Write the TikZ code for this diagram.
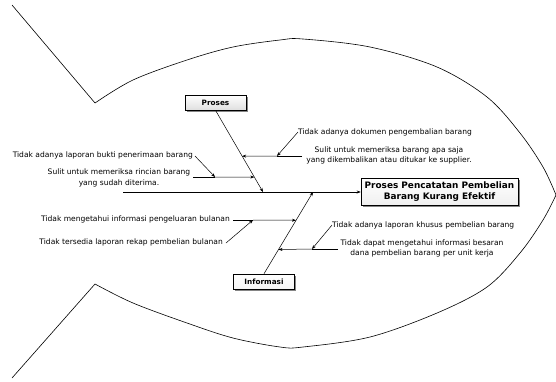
\documentclass[tikz,border=0pt]{standalone}
\usepackage{fontspec}
\setmainfont{DejaVu Sans}
\usetikzlibrary{arrows.meta,shadows,calc}
\begin{document}
\begin{tikzpicture}[x=1pt,y=-1pt,
  note/.style={font=\fontsize{7.55}{10.8}\selectfont, inner sep=0pt, align=center},
  catbox/.style={draw, line width=0.6pt, font=\bfseries\fontsize{7.3}{9}\selectfont,
    minimum width=61pt, minimum height=15pt, inner sep=0pt,
    drop shadow={shadow xshift=1.6pt, shadow yshift=-1.6pt, fill=black!60, opacity=0.8}},
  effectbox/.style={catbox, font=\bfseries\fontsize{8.9}{10.8}\selectfont,
    minimum width=157pt, minimum height=27pt, align=center},
  arr/.style={-{Stealth[length=4pt,width=3pt]}, line width=0.5pt},
  bone/.style={line width=0.6pt},
  outline/.style={line width=0.6pt}
]
\useasboundingbox (0,0) rectangle (556,381);

% fish body outline
\draw[outline] (12,5) -- (95,103)
  plot[smooth, tension=0.55] coordinates {(95,103) (133,80) (187,60) (233,47) (280,40) (303,39) (370,47) (437,67) (487,97) (520,133) (543,167) (556,195)};
\draw[outline] plot[smooth, tension=0.55] coordinates {(556,195) (543,220) (520,253) (487,287) (437,313) (370,337) (303,347) (280,347) (233,338) (187,323) (133,303) (95,284)}
  -- (12,378);

% effect and categories
\node[effectbox, top color=white, bottom color=gray!12] (effect) at (439.5,191.5) {Proses Pencatatan Pembelian\\Barang Kurang Efektif};
\node[catbox, top color=white, bottom color=gray!25] (proses) at (215.5,102.5) {Proses};
\node[catbox, top color=white, bottom color=gray!8] (info) at (264,281.5) {Informasi};

% spine
\coordinate (tail) at (123,192);
\draw[arr] (tail) -- (effect.west |- tail);

% main bones
\coordinate (pspine) at (263,192);
\coordinate (ispine) at (313,192);
\draw[arr] (proses.south) -- (pspine);
\draw[arr] (info.north) -- (ispine);

% points where the sub-causes meet the bones
\coordinate (pb1) at ($(proses.south)!0.561!(pspine)$);
\coordinate (pb2) at ($(proses.south)!0.817!(pspine)$);
\coordinate (ib1) at ($(info.north)!0.654!(ispine)$);
\coordinate (ib2) at ($(info.north)!0.296!(ispine)$);

% Proses: returns
\node[note, anchor=west] (t1) at (298,132) {Tidak adanya dokumen pengembalian barang};
\node[note] (t2) at (389,155.5) {Sulit untuk memeriksa barang apa saja\\yang dikembalikan atau ditukar ke supplier.};
\coordinate (h1) at (302,156);
\coordinate (h1m) at (277,156);
\draw[bone] (h1) -- (h1m);
\draw[arr] (h1m) -- (pb1);
\draw[arr] (t1.west) -- (h1m);

% Proses: receipts
\node[note, anchor=east] (t3) at (193,155) {Tidak adanya laporan bukti penerimaan barang};
\node[note] (t4) at (119,178) {Sulit untuk memeriksa rincian barang\\yang sudah diterima.};
\coordinate (h2) at (193,177);
\coordinate (h2m) at (215,177);
\draw[bone] (h2) -- (h2m);
\draw[arr] (h2m) -- (pb2);
\draw[arr] ($(t3.east)+(2,1)$) -- (h2m);

% Informasi: monthly reports
\node[note, anchor=east] (t5) at (230,219) {Tidak mengetahui informasi pengeluaran bulanan};
\node[note, anchor=east] (t6) at (223,242) {Tidak tersedia laporan rekap pembelian bulanan};
\coordinate (h3) at (233,220);
\coordinate (h3m) at (253,220);
\draw[bone] (h3) -- (h3m);
\draw[arr] (h3m) -- (ib1);
\draw[arr] ($(t6.east)+(3,1)$) -- (h3m);

% Informasi: unit spending
\node[note, anchor=west] (t7) at (332,225) {Tidak adanya laporan khusus pembelian barang};
\node[note] (t8) at (422,248.5) {Tidak dapat mengetahui informasi besaran\\dana pembelian barang per unit kerja};
\coordinate (h4) at (338,249);
\coordinate (h4m) at (312,249);
\draw[bone] (h4) -- (h4m);
\draw[arr] (h4m) -- (ib2);
\draw[arr] (t7.west) -- (h4m);
\end{tikzpicture}
\end{document}
